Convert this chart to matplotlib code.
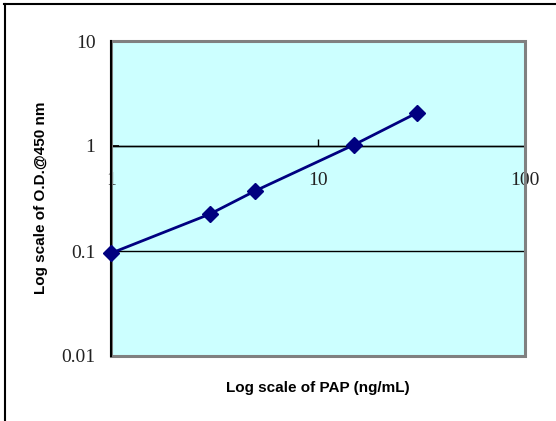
import matplotlib
matplotlib.use("Agg")
import matplotlib.pyplot as plt
from matplotlib.patches import Rectangle
from matplotlib.lines import Line2D

# PAP standard curve (log-log)
conc = [1, 3, 5, 15, 30]
od450 = [0.095, 0.224, 0.375, 1.03, 2.06]
x_ticks = [1, 10, 100]
x_tick_labels = ["1", "10", "100"]
y_ticks = [0.01, 0.1, 1, 10]
y_tick_labels = ["0.01", "0.1", "1", "10"]

fig = plt.figure(figsize=(5.56, 4.21), dpi=100)
ax = fig.add_axes([110.7 / 556, 1 - 356 / 421, (525 - 110.7) / 556, (356 - 41) / 421])
ax.set_facecolor("#ccffff")

ax.set_xscale("log")
ax.set_yscale("log")
ax.set_xlim(1, 100)
ax.set_ylim(0.01, 10)

# horizontal gridlines
for yv in y_ticks[1:3]:
    ax.axhline(yv, color="black", lw=1.0, zorder=1)

ax.plot(conc, od450, color="#000080", lw=2.0, marker="D", markersize=8,
        markeredgecolor="#000080", zorder=5, clip_on=False)

# plot area border (grey)
ax.add_patch(Rectangle((0, 0), 1, 1, transform=ax.transAxes, fill=False,
                       edgecolor="#808080", lw=2.2, zorder=3, clip_on=False))

for s in ["top", "right"]:
    ax.spines[s].set_visible(False)
ax.spines["bottom"].set_position(("data", 1))
ax.spines["bottom"].set_linewidth(1.0)
ax.spines["left"].set_linewidth(1.5)
ax.spines["left"].set_zorder(4)

ax.set_xticks(x_ticks)
ax.set_xticklabels(x_tick_labels)
ax.set_yticks(y_ticks)
ax.set_yticklabels(y_tick_labels)
ax.minorticks_off()
ax.tick_params(axis="x", direction="in", length=5, width=1, pad=19, labelsize=14)
ax.tick_params(axis="y", direction="in", length=6, width=1.2, pad=11, labelsize=14)
for lab in ax.get_xticklabels() + ax.get_yticklabels():
    lab.set_fontfamily("Liberation Serif")
    lab.set_color("#222222")

fig.text(317.5 / 556, 1 - 388 / 421, "Log scale of PAP (ng/mL)", ha="center", va="center",
         fontsize=11, fontweight="bold", family="Liberation Sans")
fig.text(41 / 556, 1 - 198 / 421, "Log scale of O.D.@450 nm", ha="center", va="center",
         rotation=90, fontsize=11, fontweight="bold", family="Liberation Sans")

# outer chart frame (top and left edges visible)
fig.add_artist(Line2D([4 / 556, 1], [1 - 3.5 / 421] * 2, transform=fig.transFigure,
                      color="black", lw=1.5))
fig.add_artist(Line2D([4.5 / 556] * 2, [0, 1 - 3.5 / 421], transform=fig.transFigure,
                      color="black", lw=1.5))

fig.savefig("out.png", dpi=100)
